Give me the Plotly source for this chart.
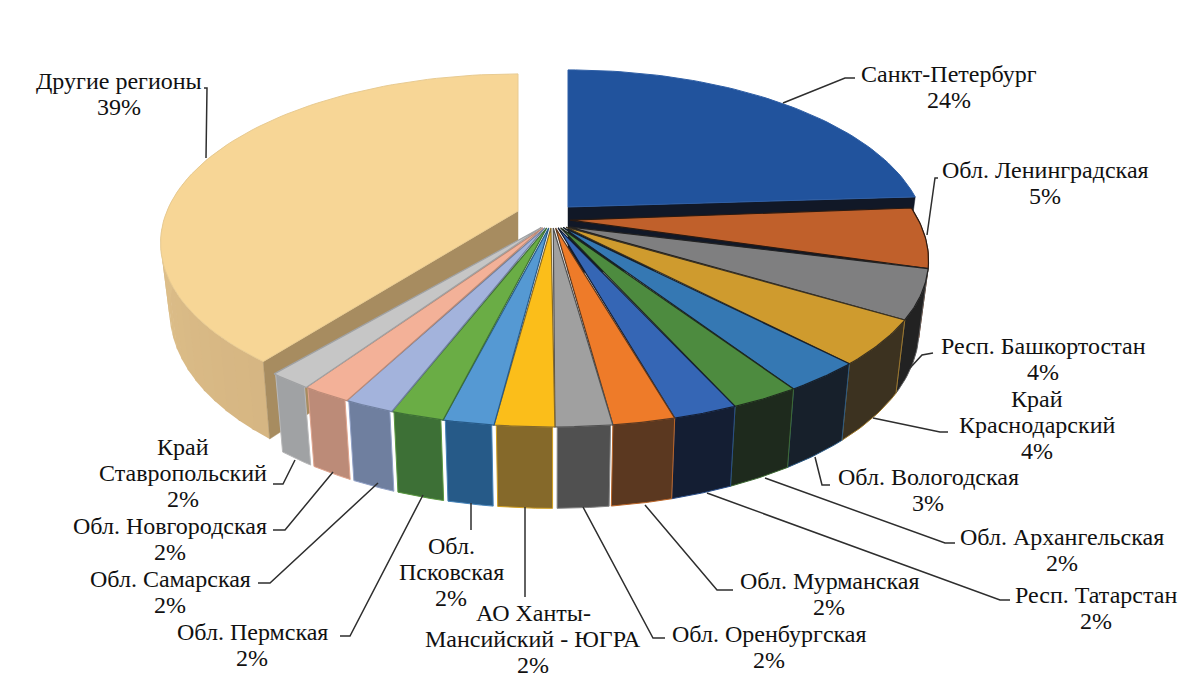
import math
import plotly.graph_objects as go

# ---- data ----
regions = ["Санкт-Петербург", "Обл. Ленинградская", "Респ. Башкортостан", "Край Краснодарский",
           "Обл. Вологодская", "Обл. Архангельская", "Респ. Татарстан", "Обл. Мурманская",
           "Обл. Оренбургская", "АО Ханты-Мансийский - ЮГРА", "Обл. Псковская", "Обл. Пермская",
           "Обл. Самарская", "Обл. Новгородская", "Край Ставропольский", "Другие регионы"]
shares = [24.0, 5.0, 4.7, 4.3, 2.9, 2.5, 2.3, 2.2, 2.0, 2.1, 1.8, 1.9, 1.8, 1.8, 1.6, 39.4]
top_colors = ["#21539D", "#C0602B", "#7F7F80", "#CF9B2E", "#3578B3", "#4D8B3F", "#3566B5", "#EE7B29",
              "#A0A0A0", "#FBBE1A", "#5599D3", "#6AAD45", "#A3B3DC", "#F3B198", "#C6C6C6", "#F7D696"]
wall_colors = ["#111827", "#2A1A12", "#222222", "#3C3220", "#17202B", "#1E2A1D", "#141E33", "#5B3820",
               "#505050", "#85692A", "#265A88", "#3D7036", "#6F7F9F", "#BC8B78", "#A0A2A4", "#A78C60"]

# label lines: (centre x, first-line y, lines)
label_lines = [
    (949, 74, ["Санкт-Петербург", "24%"]),
    (1045, 170, ["Обл. Ленинградская", "5%"]),
    (1043, 346, ["Респ. Башкортостан", "4%"]),
    (1037, 399, ["Край", "Краснодарский", "4%"]),
    (928, 477, ["Обл. Вологодская", "3%"]),
    (1062, 537, ["Обл. Архангельская", "2%"]),
    (1096, 595, ["Респ. Татарстан", "2%"]),
    (829, 581, ["Обл. Мурманская", "2%"]),
    (769, 634, ["Обл. Оренбургская", "2%"]),
    (533, 613, ["АО Ханты-", "Мансийский - ЮГРА", "2%"]),
    (451, 546, ["Обл.", "Псковская", "2%"]),
    (252, 632, ["Обл. Пермская", "2%"]),
    (170, 579, ["Обл. Самарская", "2%"]),
    (170, 526, ["Обл. Новгородская", "2%"]),
    (183, 447, ["Край", "Ставропольский", "2%"]),
    (119, 81, ["Другие регионы", "39%"]),
]
leaders = [
    [(783, 103), (845, 78), (855, 78)],
    [(927, 235), (935, 178), (938, 178)],
    [(910, 368), (922, 355), (933, 353)],
    [(873, 418), (940, 432), (948, 432)],
    [(815, 457), (822, 485), (830, 485)],
    [(765, 478), (945, 543), (955, 543)],
    [(707, 493), (1000, 600), (1010, 600)],
    [(645, 505), (717, 590), (733, 590)],
    [(583, 507), (653, 638), (665, 638)],
    [(525, 507), (525, 597)],
    [(471, 503), (471, 530)],
    [(423, 495), (350, 636), (340, 636)],
    [(378, 483), (270, 583), (258, 583)],
    [(333, 472), (285, 530), (273, 530)],
    [(295, 460), (283, 484), (273, 484)],
    [(206, 158), (207, 88), (204, 88)],
]

# ---- projection of the tilted pie ----
K, RY, DEPTH, BOTTOM_SCALE = 0.189, 163, 66, 0.975
MAIN = (552, 226, 376, 0.018)
SPB = (568, 207, 352, 0.0)
OTHERS = (518, 211, 351, 0.0)


def rim(frame, pct, lower=False):
    cx, cy, rx, pinch = frame
    a = math.radians(pct * 3.6)
    u, v = math.sin(a), math.cos(a)
    w = 1 + K * v
    x, y = cx + rx * u / w * (1 - pinch * u ** 4), cy - RY * v / w
    if lower:
        x = cx + (x - cx) * BOTTOM_SCALE
        y += DEPTH / w
    return x, y


def arc(frame, p0, p1, lower=False, n=40):
    return [rim(frame, p0 + (p1 - p0) * i / n, lower) for i in range(n + 1)]


fig = go.Figure()


def poly(points, fill, line, width=1.0):
    fig.add_trace(go.Scatter(x=[p[0] for p in points] + [points[0][0]],
                             y=[p[1] for p in points] + [points[0][1]],
                             mode="lines", fill="toself", fillcolor=fill,
                             line=dict(color=line, width=width),
                             hoverinfo="skip", showlegend=False))


def mix(c1, c2, t):
    a = [int(c1[i:i + 2], 16) for i in (1, 3, 5)]
    b = [int(c2[i:i + 2], 16) for i in (1, 3, 5)]
    return "#%02X%02X%02X" % tuple(round(a[i] + (b[i] - a[i]) * t) for i in range(3))


starts = [sum(shares[:i]) for i in range(len(shares))]

# "Другие регионы": outer wall in strips, cut wall, top
i_o = len(shares) - 1
p0, p1 = 100.0 - shares[i_o], 100.0
steps = 24
for s in range(steps):
    a, b = p0 + s * 0.9, p0 + (s + 1) * 0.9 + 0.15
    col = mix("#D6B683", "#E2C58E", s / (steps - 1))
    poly(arc(OTHERS, a, b, n=4) + arc(OTHERS, b, a, lower=True, n=4), col, col, 0)
apex = (OTHERS[0], OTHERS[1])
poly([apex, rim(OTHERS, p0), rim(OTHERS, p0, True), (apex[0], apex[1] + DEPTH)], wall_colors[i_o], wall_colors[i_o], 0.5)
poly([apex] + arc(OTHERS, p0, p1, n=80), top_colors[i_o], "#E8CB92", 1.0)

# Санкт-Петербург: cut wall, top
apex = (SPB[0], SPB[1])
poly([apex, rim(SPB, shares[0]), rim(SPB, shares[0], True), (apex[0], apex[1] + DEPTH)], wall_colors[0], wall_colors[0], 0.5)
poly([apex] + arc(SPB, 0, shares[0], n=60), top_colors[0], "#2F5FA6", 1.0)

# the remaining slices
for i in range(1, len(shares) - 1):
    a, b = starts[i], starts[i] + shares[i]
    if i == 1:
        a -= 0.8
    mid = math.radians((a + b) / 2 * 3.6)
    ax = MAIN[0] + 18 * math.sin(mid)
    ay = MAIN[1] - 2 * math.cos(mid) - (6 if i == 1 else 0)
    gap = 0.08 if i >= 8 else 0.0
    poly(arc(MAIN, a + gap, b - gap, n=16) + arc(MAIN, b - gap, a + gap, lower=True, n=16),
         wall_colors[i], mix(top_colors[i], wall_colors[i], 0.35), 1.0)
    poly([(ax, ay)] + arc(MAIN, a, b, n=24), top_colors[i], wall_colors[i], 1.2)

# leader lines
for pts in leaders:
    fig.add_trace(go.Scatter(x=[p[0] for p in pts], y=[p[1] for p in pts], mode="lines",
                             line=dict(color="#2E2E2E", width=1.5), hoverinfo="skip", showlegend=False))

# labels, line by line
PITCH = 26
for cx, y0, lines in label_lines:
    for j, line in enumerate(lines):
        fig.add_annotation(x=cx, y=y0 + j * PITCH, text=line, showarrow=False, xanchor="center", yanchor="middle",
                           font=dict(family="Liberation Serif", size=24, color="#111111"))

fig.update_layout(width=1200, height=691, margin=dict(l=0, r=0, t=0, b=0),
                  paper_bgcolor="white", plot_bgcolor="white", showlegend=False,
                  xaxis=dict(range=[0, 1200], visible=False, fixedrange=True),
                  yaxis=dict(range=[691, 0], visible=False, fixedrange=True))
fig.write_html("out.html", config={"displayModeBar": False},
               post_script="document.body.style.margin='0';document.body.style.overflow='hidden';")
